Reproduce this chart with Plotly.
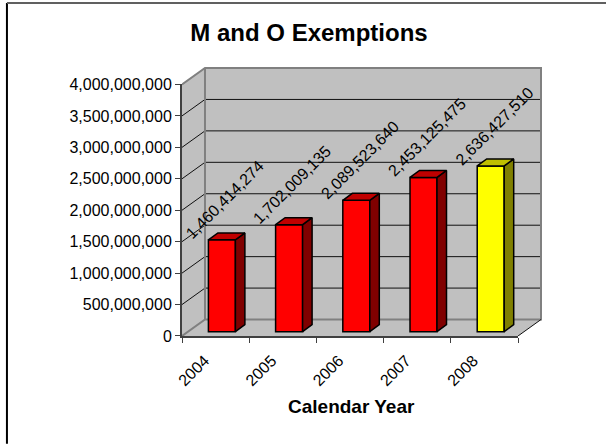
import plotly.graph_objects as go

years = [2004, 2005, 2006, 2007, 2008]
year_labels = ["2004", "2005", "2006", "2007", "2008"]
values = [1460414274, 1702009135, 2089523640, 2453125475, 2636427510]
value_labels = ["1,460,414,274", "1,702,009,135", "2,089,523,640", "2,453,125,475", "2,636,427,510"]
front_colors = ["#FF0000", "#FF0000", "#FF0000", "#FF0000", "#FFFF00"]
side_colors = ["#800000", "#800000", "#800000", "#800000", "#808000"]
top_colors = ["#C00000", "#C00000", "#C00000", "#C00000", "#C0C000"]
y_ticks = [0, 500000000, 1000000000, 1500000000, 2000000000, 2500000000, 3000000000, 3500000000, 4000000000]

# pixel geometry of the pseudo-3D box
W, H = 606, 444
FX0, FX1, FY0, FY1 = 181.6, 517.7, 336.0, 84.0   # front plane
DX, DY = 23.0, 16.5                               # wall depth in px
PAD = 2.0                                         # room so wall edges are not clipped
px_x = (FX1 - FX0) / 5.0
px_y = (FY0 - FY1) / 4e9
X0 = years[0] - 0.5
X1 = years[-1] + 0.5
dep_x = DX / px_x
dep_y = DY / px_y
YTOP = 4e9 + dep_y
# bar placement inside the box
bar_w = 27.0 / px_x
bar_dx = 6.3 / px_x
bar_base = 4.3 / px_y
bar_dep_x = 9.5 / px_x
bar_dep_y = 7.0 / px_y

PLOT_W = FX1 + DX + PAD - FX0
PLOT_H = FY0 - FY1 + DY + PAD


def paper_x(px):
    return (px - FX0) / PLOT_W


def paper_y(py):
    return (FY0 - py) / PLOT_H


fig = go.Figure()

shapes = []
GRAY = "#808080"
GRID = "#101010"
AXIS = "#404040"
# side wall, back wall, floor
shapes.append(dict(type="path", xref="x", yref="y", layer="below",
                   path=f"M{X0},0 L{X0+dep_x},{dep_y} L{X0+dep_x},{YTOP} L{X0},4000000000 Z",
                   fillcolor="#C0C0C0", line=dict(width=0)))
shapes.append(dict(type="rect", xref="x", yref="y", layer="below",
                   x0=X0 + dep_x, x1=X1 + dep_x, y0=dep_y, y1=YTOP,
                   fillcolor="#C0C0C0", line=dict(width=0)))
shapes.append(dict(type="path", xref="x", yref="y", layer="below",
                   path=f"M{X0},0 L{X0+dep_x},{dep_y} L{X1+dep_x},{dep_y} L{X1},0 Z",
                   fillcolor="#C0C0C0", line=dict(width=0)))
# gridlines
for t in y_ticks[1:-1]:
    shapes.append(dict(type="path", xref="x", yref="y", layer="below",
                       path=f"M{X0},{t} L{X0+dep_x},{t+dep_y} L{X1+dep_x},{t+dep_y}",
                       line=dict(color=GRID, width=1)))
# wall edges
shapes.append(dict(type="path", xref="x", yref="y", layer="below",
                   path=(f"M{X0},0 L{X0+dep_x},{dep_y} L{X1+dep_x},{dep_y} L{X1+dep_x},{YTOP} "
                         f"L{X0+dep_x},{YTOP} L{X0},4000000000 M{X0+dep_x},{dep_y} L{X0+dep_x},{YTOP}"),
                   line=dict(color=GRAY, width=2)))
shapes.append(dict(type="line", xref="x", yref="y", layer="below",
                   x0=X1, x1=X1 + dep_x, y0=0, y1=dep_y, line=dict(color=GRID, width=1)))
# chart frame
shapes.append(dict(type="line", xref="paper", yref="paper",
                   x0=paper_x(6.5), x1=paper_x(6.5), y0=paper_y(H), y1=paper_y(2.5),
                   line=dict(color="#000000", width=2)))
shapes.append(dict(type="line", xref="paper", yref="paper",
                   x0=paper_x(6.5), x1=paper_x(W), y0=paper_y(2.5), y1=paper_y(2.5),
                   line=dict(color="#606060", width=2)))

# bar front faces
fig.add_trace(go.Bar(
    x=years, y=values, base=bar_base, width=bar_w, offset=-bar_w / 2 + bar_dx,
    marker=dict(color=front_colors, line=dict(color="#000000", width=1.5)),
    showlegend=False, hoverinfo="skip"))

# bar side and top faces
for yr, v, sc, tc in zip(years, values, side_colors, top_colors):
    xl = yr - bar_w / 2 + bar_dx
    xr = xl + bar_w
    top = v + bar_base
    fig.add_trace(go.Scatter(
        x=[xr, xr + bar_dep_x, xr + bar_dep_x, xr, xr],
        y=[bar_base, bar_base + bar_dep_y, top + bar_dep_y, top, bar_base],
        mode="lines", fill="toself", fillcolor=sc,
        line=dict(color="#000000", width=1.5), showlegend=False, hoverinfo="skip"))
    fig.add_trace(go.Scatter(
        x=[xl, xr, xr + bar_dep_x, xl + bar_dep_x, xl],
        y=[top, top, top + bar_dep_y, top + bar_dep_y, top],
        mode="lines", fill="toself", fillcolor=tc,
        line=dict(color="#000000", width=1.5), showlegend=False, hoverinfo="skip"))

# invisible trace that carries the visible front-plane axes
fig.add_trace(go.Scatter(x=years, y=values, xaxis="x2", yaxis="y2", mode="lines",
                         line=dict(width=0), opacity=0, showlegend=False, hoverinfo="skip"))

annotations = []
for yr, v, lab in zip(years, values, value_labels):
    annotations.append(dict(x=yr, y=v + bar_base, xref="x", yref="y", text=lab, showarrow=False,
                            textangle=-45, xanchor="center", yanchor="bottom",
                            xshift=9.5, yshift=-5,
                            font=dict(family="Liberation Sans", size=16, color="#000000")))
annotations.append(dict(x=2006 + 1.9 / px_x, xref="x", y=paper_y(407), yref="paper",
                        text="<b>Calendar Year</b>", showarrow=False,
                        xanchor="center", yanchor="middle",
                        font=dict(family="Liberation Sans", size=19, color="#000000")))

fig.update_layout(
    width=W, height=H, autosize=False,
    paper_bgcolor="#FFFFFF", plot_bgcolor="rgba(0,0,0,0)",
    margin=dict(l=FX0, r=W - FX0 - PLOT_W, t=FY0 - PLOT_H, b=H - FY0, pad=0),
    title=dict(text="<b>M and O Exemptions</b>", x=309 / W, xanchor="center", y=1 - 33 / H, yanchor="middle",
               font=dict(family="Liberation Sans", size=24, color="#000000")),
    shapes=shapes, annotations=annotations, showlegend=False,
    xaxis=dict(range=[X0, X1 + dep_x + PAD / px_x], visible=False),
    yaxis=dict(range=[0, YTOP + PAD / px_y], visible=False),
    xaxis2=dict(domain=[0, (FX1 - FX0) / PLOT_W], anchor="y2", range=[X0, X1],
                tickvals=years, ticktext=year_labels, tickangle=-45,
                ticks="", showgrid=False, zeroline=False,
                showline=True, linecolor=AXIS, linewidth=2,
                ticklabelshift=-11, ticklabelstandoff=7,
                minor=dict(tickvals=[y + 0.5 for y in [years[0] - 1] + years], ticks="outside",
                           ticklen=5, tickcolor=AXIS, tickwidth=1),
                tickfont=dict(family="Liberation Sans", size=16, color="#000000")),
    yaxis2=dict(domain=[0, (FY0 - FY1) / PLOT_H], anchor="x2", range=[0, 4e9],
                tickvals=y_ticks, tickformat=",d", ticks="outside", ticklen=5,
                tickcolor=AXIS, tickwidth=1, showgrid=False, zeroline=False,
                showline=True, linecolor=AXIS, linewidth=2,
                tickfont=dict(family="Liberation Sans", size=16, color="#000000")),
)

fig.write_html("out.html", config={"displayModeBar": False},
               post_script="document.body.style.margin='0';")
